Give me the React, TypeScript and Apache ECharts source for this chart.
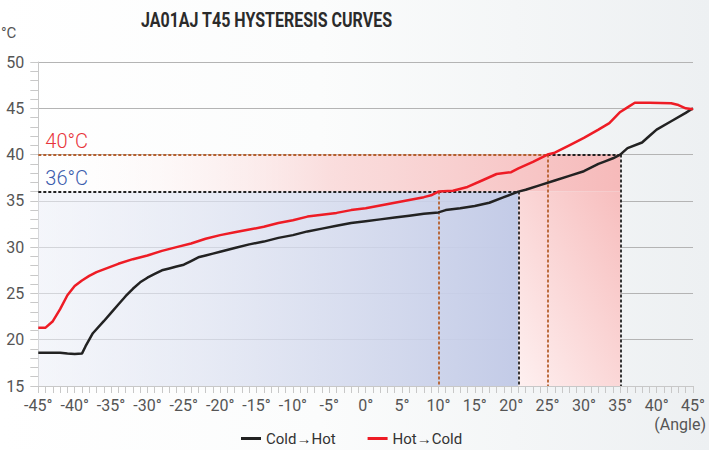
import React, { useEffect, useRef } from 'react';
import * as echarts from 'echarts';

const titleText = 'JA01AJ T45 HYSTERESIS CURVES';
const xAxisName = '(Angle)';
const yAxisName = '°C';
const seriesNames = ['Cold→Hot', 'Hot→Cold'];

const coldAngles = [-45, -43, -42, -41, -40, -39, -38.5, -37.5, -36, -35, -34, -33, -32, -31, -30, -29, -28, -27, -26, -25, -24, -23, -22, -21, -20, -18, -16, -14, -12, -10, -8, -6, -4, -2, 0, 2, 4, 6, 8, 10, 11, 13, 15, 17, 19, 20, 21, 22, 24, 26, 28, 30, 32, 33, 34, 35, 36, 38, 39, 40, 42, 44, 45];
const coldTemps = [18.6, 18.6, 18.6, 18.5, 18.45, 18.5, 19.3, 20.7, 22.0, 22.9, 23.8, 24.7, 25.5, 26.2, 26.7, 27.1, 27.5, 27.7, 27.9, 28.1, 28.5, 28.9, 29.1, 29.3, 29.5, 29.9, 30.3, 30.6, 31.0, 31.3, 31.7, 32.0, 32.3, 32.6, 32.8, 33.0, 33.2, 33.4, 33.6, 33.75, 34.0, 34.2, 34.45, 34.8, 35.4, 35.7, 36.0, 36.2, 36.7, 37.2, 37.7, 38.2, 39.0, 39.3, 39.6, 40.0, 40.7, 41.3, 42.0, 42.7, 43.6, 44.5, 45.0];

const hotAngles = [-45, -44, -43, -42, -41, -40, -39, -38, -37, -36, -34, -32, -30, -28, -26, -24, -22, -20, -18, -16, -14, -12, -10, -8, -6, -4, -2, 0, 2, 4, 6, 8, 9, 10, 12, 14, 16, 18, 20, 21, 23, 25, 26, 28, 30, 32, 33.5, 35, 36, 37, 39, 42, 43, 44, 45];
const hotTemps = [21.3, 21.3, 22.0, 23.3, 24.8, 25.8, 26.4, 26.9, 27.3, 27.6, 28.2, 28.7, 29.1, 29.6, 30.0, 30.4, 30.9, 31.3, 31.6, 31.9, 32.2, 32.6, 32.9, 33.3, 33.5, 33.7, 34.0, 34.2, 34.5, 34.8, 35.1, 35.4, 35.6, 36.0, 36.1, 36.5, 37.2, 37.9, 38.1, 38.5, 39.2, 40.0, 40.2, 41.0, 41.8, 42.7, 43.4, 44.6, 45.1, 45.6, 45.6, 45.55, 45.35, 45.0, 44.9];

const lowTemp = 36;
const highTemp = 40;
const hotAtLow = 10;
const coldAtLow = 21;
const hotAtHigh = 25;
const coldAtHigh = 35;
const lowLabel = '36°C';
const highLabel = '40°C';

const xMin = -45;
const xMax = 45;
const yMin = 15;
const yMax = 50;

const FONT = 'Roboto, "Noto Sans", sans-serif';

export default function App() {
  const ref = useRef<HTMLDivElement>(null);

  useEffect(() => {
    if (!ref.current) return;
    const chart = echarts.init(ref.current, undefined, { renderer: 'svg' });
    const brown = '#b5602e';
    const dark = '#222222';
    const dashed: any = [3, 2];

    const option: any = {
      animation: false,
      backgroundColor: new echarts.graphic.LinearGradient(0, 0, 1, 0, [
        { offset: 0, color: '#ffffff' },
        { offset: 0.45, color: '#fbfcfc' },
        { offset: 1, color: '#edf0f2' },
      ]),
      textStyle: { fontFamily: FONT },
      graphic: [
        {
          type: 'text',
          x: 141,
          y: 10,
          scaleX: 0.8,
          style: {
            text: titleText,
            font: 'bold 20px Roboto',
            fill: '#2b2b2b',
            textVerticalAlign: 'top',
          },
        },
        {
          type: 'text',
          right: 3,
          top: 416,
          style: {
            text: xAxisName,
            font: '16px Roboto',
            fill: '#555',
          },
        },
      ],
      legend: {
        left: 236,
        top: 426,
        itemGap: 32,
        itemWidth: 20,
        itemHeight: 3,
        icon: 'rect',
        textStyle: { fontSize: 15, color: '#333', fontFamily: FONT },
        data: seriesNames,
      },
      grid: { left: 38.3, right: 16, top: 62, bottom: 64, outerBoundsMode: 'none', containLabel: false },
      xAxis: {
        type: 'value',
        min: xMin,
        max: xMax,
        interval: 5,
        axisLine: { show: true, onZero: false, lineStyle: { color: '#c8c8c8', width: 1 } },
        axisTick: { show: true, length: 7, lineStyle: { color: '#c8c8c8' } },
        minorTick: { show: true, splitNumber: 5, length: 7, lineStyle: { color: '#c8c8c8' } },
        splitLine: { show: false },
        axisLabel: {
          formatter: (v: number) => `${v}°`,
          fontSize: 16,
          color: '#555',
          margin: 11,
          fontFamily: FONT,
        },
      },
      yAxis: {
        type: 'value',
        min: yMin,
        max: yMax,
        interval: 5,
        name: yAxisName,
        nameLocation: 'end',
        nameGap: 22,
        nameTextStyle: {
          align: 'right',
          padding: [0, 22, 0, 0],
          fontSize: 15,
          color: '#555',
          fontFamily: FONT,
        },
        axisLine: { show: true, onZero: false, lineStyle: { color: '#c8c8c8', width: 1 } },
        axisTick: { show: true, length: 8, lineStyle: { color: '#c8c8c8' } },
        minorTick: { show: true, splitNumber: 5, length: 8, lineStyle: { color: '#c8c8c8' } },
        splitLine: { show: true, lineStyle: { color: '#b4b4b4', width: 1 } },
        axisLabel: { fontSize: 16, color: '#555', margin: 14, fontFamily: FONT },
      },
      series: [
        {
          name: seriesNames[0],
          type: 'line',
          showSymbol: false,
          symbol: 'none',
          z: 5,
          lineStyle: { color: dark, width: 2.5 },
          itemStyle: { color: dark },
          data: coldAngles.map((a, i) => [a, coldTemps[i]]),
          markArea: {
            silent: true,
            z: 1,
            data: [
              [
                {
                  coord: [xMin, yMin],
                  itemStyle: {
                    color: new echarts.graphic.LinearGradient(0, 0, 1, 0, [
                      { offset: 0, color: 'rgba(236,239,247,0.55)' },
                      { offset: 1, color: '#c3cbe7' },
                    ]),
                  },
                },
                { coord: [coldAtLow, lowTemp] },
              ],
            ],
          },
          markLine: {
            silent: true,
            symbol: ['none', 'none'],
            z: 3,
            lineStyle: { color: dark, type: dashed, width: 1.8 },
            label: { show: false },
            data: [
              [
                {
                  coord: [xMin, lowTemp],
                  label: {
                    show: true,
                    position: 'insideStartTop',
                    formatter: lowLabel,
                    color: '#3b5cad',
                    fontSize: 20,
                    fontWeight: 300,
                    distance: [7, 4],
                    fontFamily: FONT,
                  },
                },
                { coord: [coldAtLow, lowTemp] },
              ],
              [{ coord: [coldAtLow, lowTemp] }, { coord: [coldAtLow, yMin] }],
              [{ coord: [hotAtHigh, highTemp] }, { coord: [coldAtHigh, highTemp] }],
              [{ coord: [coldAtHigh, highTemp] }, { coord: [coldAtHigh, yMin] }],
            ],
          },
        },
        {
          name: seriesNames[1],
          type: 'line',
          showSymbol: false,
          symbol: 'none',
          z: 6,
          lineStyle: { color: '#ee1c25', width: 2.5 },
          itemStyle: { color: '#ee1c25' },
          data: hotAngles.map((a, i) => [a, hotTemps[i]]),
          markArea: {
            silent: true,
            z: 1,
            data: [
              [
                {
                  coord: [xMin, lowTemp],
                  itemStyle: {
                    color: new echarts.graphic.LinearGradient(0, 0, 1, 0, [
                      { offset: 0, color: 'rgba(255,255,255,0)' },
                      { offset: 0.5, color: 'rgba(250,214,214,0.8)' },
                      { offset: 1, color: '#f6baba' },
                    ]),
                  },
                },
                { coord: [coldAtHigh, highTemp] },
              ],
              [
                {
                  coord: [coldAtLow, yMin],
                  itemStyle: {
                    color: new echarts.graphic.LinearGradient(0, 1, 1, 0, [
                      { offset: 0, color: '#fef0f0' },
                      { offset: 1, color: '#f7bebe' },
                    ]),
                  },
                },
                { coord: [coldAtHigh, lowTemp] },
              ],
            ],
          },
          markLine: {
            silent: true,
            symbol: ['none', 'none'],
            z: 3,
            lineStyle: { color: brown, type: dashed, width: 1.8 },
            label: { show: false },
            data: [
              [
                {
                  coord: [xMin, highTemp],
                  label: {
                    show: true,
                    position: 'insideStartTop',
                    formatter: highLabel,
                    color: '#e8343a',
                    fontSize: 20,
                    fontWeight: 300,
                    distance: [7, 4],
                    fontFamily: FONT,
                  },
                },
                { coord: [hotAtHigh, highTemp] },
              ],
              [{ coord: [hotAtHigh, highTemp] }, { coord: [hotAtHigh, yMin] }],
              [{ coord: [hotAtLow, lowTemp] }, { coord: [hotAtLow, yMin] }],
            ],
          },
        },
      ],
    };

    chart.setOption(option);
    return () => chart.dispose();
  }, []);

  return (
    <div
      ref={ref}
      style={{ position: 'fixed', left: 0, top: 0, width: 709, height: 450 }}
    />
  );
}
